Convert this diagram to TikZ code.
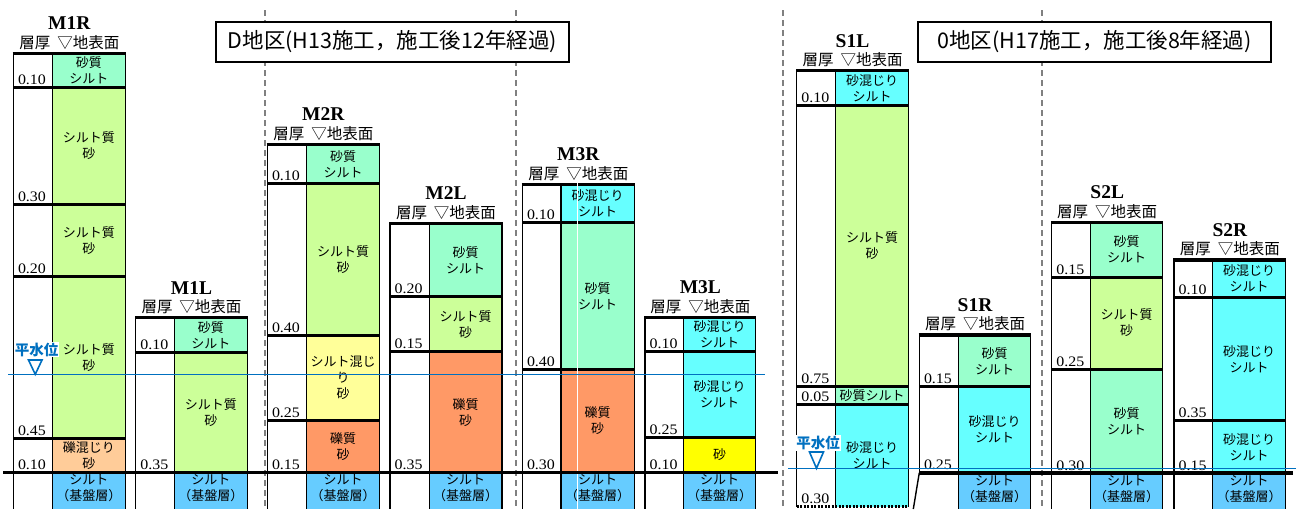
\documentclass[tikz,border=0pt]{standalone}
\usepackage{fontspec}
\usepackage{graphicx}
\setmainfont{Liberation Serif}
\newfontfamily\jp{Noto Sans CJK JP}
\pgfdeclarelayer{bg}
\pgfsetlayers{bg,main}
\definecolor{cMint}{RGB}{153,255,204}
\definecolor{cYG}{RGB}{204,255,153}
\definecolor{cLO}{RGB}{255,204,153}
\definecolor{cLY}{RGB}{255,255,153}
\definecolor{cOr}{RGB}{255,153,102}
\definecolor{cCy}{RGB}{102,255,255}
\definecolor{cYe}{RGB}{255,255,0}
\definecolor{cBed}{RGB}{102,204,255}
\definecolor{cWat}{RGB}{0,112,192}
\definecolor{cDash}{RGB}{128,128,128}
\tikzset{
 lbl/.style={font=\jp\fontsize{13}{16}\selectfont, align=center, inner sep=0pt},
 thk/.style={font=\fontsize{14.5}{14.5}\selectfont, anchor=base west, inner sep=0pt},
 ttl/.style={font=\bfseries\fontsize{19.5}{19.5}\selectfont, inner sep=0pt},
 sub/.style={font=\jp\fontsize{15.5}{15.5}\selectfont, inner sep=0pt},
 hl/.style={line width=3pt},
 dl/.style={line width=2.5pt, dash pattern=on 2pt off 1.5pt},
 vl/.style={line width=1.4pt},
 tl/.style={line width=3.2pt},
 sep/.style={cDash, line width=1.3pt, dash pattern=on 6pt off 4pt},
 wl/.style={cWat, line width=1.6pt},
 wt/.style={font=\jp\bfseries\fontsize{14.5}{14.5}\selectfont, text=cWat, fill=white, inner sep=1pt},
 box/.style={draw, line width=1.5pt, fill=white, minimum width=353pt, minimum height=40pt,
   font=\jp\fontsize{21.5}{21.5}\selectfont, inner sep=0pt},
}
% layer: xL xD xR yTop yBot colour thickness text linestyle
\newcommand\lyr[9]{%
 \begin{pgfonlayer}{bg}\fill[#6] (#2,#4) rectangle (#3,#5);\end{pgfonlayer}
 \node[thk] at (#1+4.5,#5-3) {\scalebox{1.1}[1]{#7}};
 \node[lbl] at ({(#2+#3)/2},{(#4+#5)/2}) {#8};
 \draw[#9] (#1,#5) -- (#3,#5);
}
% column frame: xL xD xR yTop title leftbottom otherbottom
\newcommand\colm[7]{%
 \node[ttl] at ({(#1+#3)/2},#4-30) {#5};
 \node[sub] at ({(#1+#3)/2},#4-11) {層厚\hspace{7pt}▽地表面};
 \draw[vl] (#1,#4) -- (#1,#6) (#2,#4) -- (#2,#7) (#3,#4) -- (#3,#7);
 \draw[tl] (#1-0.7,#4) -- (#3+0.7,#4);
}
% bedrock: xD xR yTop
\newcommand\bed[3]{%
 \begin{pgfonlayer}{bg}\fill[cBed] (#1,#3) rectangle (#2,509);\end{pgfonlayer}
 \node[lbl] at ({(#1+#2)/2},#3+16) {シルト\\（基盤層）};
}
\begin{document}
\begin{tikzpicture}[x=1pt,y=-1pt]
\useasboundingbox (0,0) rectangle (1298,509);
\begin{pgfonlayer}{bg}\fill[white] (0,0) rectangle (1298,509);\end{pgfonlayer}
% separators
\foreach \sx in {265,516,783,1042} \draw[sep] (\sx,10) -- (\sx,509);
% M1R
\lyr{13.3}{52.3}{125.3}{53.3}{87.7}{cMint}{0.10}{砂質\\シルト}{hl}
\lyr{13.3}{52.3}{125.3}{87.7}{204.3}{cYG}{0.30}{シルト質\\砂}{hl}
\lyr{13.3}{52.3}{125.3}{204.3}{276.7}{cYG}{0.20}{シルト質\\砂}{hl}
\lyr{13.3}{52.3}{125.3}{276.7}{438.3}{cYG}{0.45}{シルト質\\砂}{hl}
\lyr{13.3}{52.3}{125.3}{438.3}{472.5}{cLO}{0.10}{礫混じり\\砂}{hl}
\bed{52.3}{125.3}{472.5}
\colm{13.3}{52.3}{125.3}{53.3}{M1R}{509}{509}
% M1L
\lyr{135.7}{174.3}{247.3}{317.7}{352.3}{cMint}{0.10}{砂質\\シルト}{hl}
\lyr{135.7}{174.3}{247.3}{352.3}{472.5}{cYG}{0.35}{シルト質\\砂}{hl}
\bed{174.3}{247.3}{472.5}
\colm{135.7}{174.3}{247.3}{317.7}{M1L}{509}{509}
% M2R
\lyr{267.3}{306.7}{379.3}{144.3}{183.7}{cMint}{0.10}{砂質\\シルト}{hl}
\lyr{267.3}{306.7}{379.3}{183.7}{335}{cYG}{0.40}{シルト質\\砂}{hl}
\lyr{267.3}{306.7}{379.3}{335}{420.7}{cLY}{0.25}{シルト混じ\\り\\砂}{hl}
\lyr{267.3}{306.7}{379.3}{420.7}{472.5}{cOr}{0.15}{礫質\\砂}{hl}
\bed{306.7}{379.3}{472.5}
\colm{267.3}{306.7}{379.3}{144.3}{M2R}{509}{509}
% M2L
\lyr{390}{429.3}{502}{223.3}{296.7}{cMint}{0.20}{砂質\\シルト}{hl}
\lyr{390}{429.3}{502}{296.7}{351.7}{cYG}{0.15}{シルト質\\砂}{hl}
\lyr{390}{429.3}{502}{351.7}{472.5}{cOr}{0.35}{礫質\\砂}{hl}
\bed{429.3}{502}{472.5}
\colm{390}{429.3}{502}{223.3}{M2L}{509}{509}
% M3R
\lyr{522.3}{561}{634.3}{184.3}{222.7}{cCy}{0.10}{砂混じり\\シルト}{hl}
\lyr{522.3}{561}{634.3}{222.7}{369.3}{cMint}{0.40}{砂質\\シルト}{hl}
\lyr{522.3}{561}{634.3}{369.3}{472.5}{cOr}{0.30}{礫質\\砂}{hl}
\bed{561}{634.3}{472.5}
\colm{522.3}{561}{634.3}{184.3}{M3R}{509}{509}
\draw[white, line width=0.8pt] (577.7,182) -- (577.7,509);
% M3L
\lyr{645}{683.3}{755.7}{317.3}{351.7}{cCy}{0.10}{砂混じり\\シルト}{hl}
\lyr{645}{683.3}{755.7}{351.7}{437.7}{cCy}{0.25}{砂混じり\\シルト}{hl}
\lyr{645}{683.3}{755.7}{437.7}{472.5}{cYe}{0.10}{砂}{hl}
\bed{683.3}{755.7}{472.5}
\colm{645}{683.3}{755.7}{317.3}{M3L}{509}{509}
% S1L
\lyr{796.7}{835.7}{908.3}{70.7}{105}{cCy}{0.10}{砂混じり\\シルト}{hl}
\lyr{796.7}{835.7}{908.3}{105}{386.7}{cYG}{0.75}{シルト質\\砂}{hl}
\lyr{796.7}{835.7}{908.3}{386.7}{404}{cMint}{0.05}{砂質シルト}{hl}
\lyr{796.7}{835.7}{908.3}{404}{506.7}{cCy}{0.30}{砂混じり\\シルト}{dl}
\colm{796.7}{835.7}{908.3}{70.7}{S1L}{506.7}{506.7}
% S1R
\lyr{919.3}{958.3}{1030.7}{335}{386.7}{cMint}{0.15}{砂質\\シルト}{hl}
\lyr{919.3}{958.3}{1030.7}{386.7}{472.7}{cCy}{0.25}{砂混じり\\シルト}{hl}
\bed{958.3}{1030.7}{472.7}
\colm{919.3}{958.3}{1030.7}{335}{S1R}{472.7}{509}
\draw[vl] (919.3,472.7) -- (913.3,509);
% S2L
\lyr{1051.7}{1090.7}{1162.7}{222.3}{277}{cMint}{0.15}{砂質\\シルト}{hl}
\lyr{1051.7}{1090.7}{1162.7}{277}{369}{cYG}{0.25}{シルト質\\砂}{hl}
\lyr{1051.7}{1090.7}{1162.7}{369}{473}{cMint}{0.30}{砂質\\シルト}{hl}
\bed{1090.7}{1162.7}{473}
\colm{1051.7}{1090.7}{1162.7}{222.3}{S2L}{509}{509}
% S2R
\lyr{1174}{1212.7}{1285.7}{260}{297}{cCy}{0.10}{砂混じり\\シルト}{hl}
\lyr{1174}{1212.7}{1285.7}{297}{420.7}{cCy}{0.35}{砂混じり\\シルト}{hl}
\lyr{1174}{1212.7}{1285.7}{420.7}{473}{cCy}{0.15}{砂混じり\\シルト}{hl}
\bed{1212.7}{1285.7}{473}
\colm{1174}{1212.7}{1285.7}{260}{S2R}{509}{509}
% base lines
\draw[line width=3.6pt] (3,472.5) -- (778,472.5);
\draw[line width=3.6pt] (919.3,472.7) -- (1293,472.7);
% water tables
\draw[wl] (8,374.3) -- (765,374.3);
\node[wt] (wl1) at (36.5,349.5) {平水位};
\draw[wl, fill=white] (28.5,360) -- (42,360) -- (35.25,374.3) -- cycle;
\draw[wl] (788,468.3) -- (1296,468.3);
\node[wt] (wl2) at (818,442.7) {平水位};
\draw[wl, fill=white] (809.5,452) -- (823.5,452) -- (816.5,468.3) -- cycle;
% title boxes
\node[box] (dbox) at (392.5,42) {D地区(H13施工，施工後12年経過)};
\node[box] (obox) at (1094.5,42) {0地区(H17施工，施工後8年経過)};
\end{tikzpicture}
\end{document}
